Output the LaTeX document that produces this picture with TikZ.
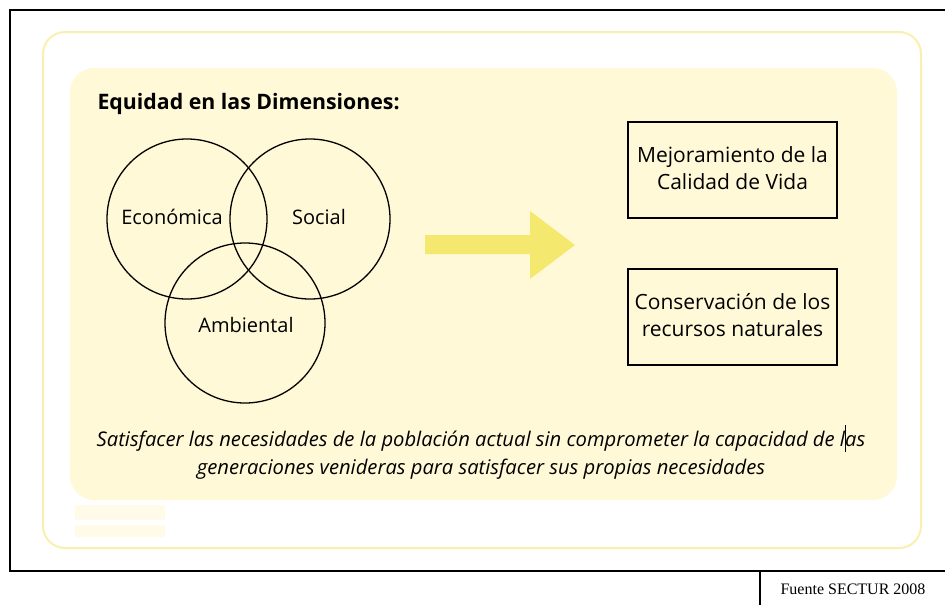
\documentclass[tikz,border=0pt]{standalone}
\usepackage{fontspec}
\setmainfont{Open Sans}
\newfontfamily\fuentefont{Liberation Serif}
\definecolor{fondo}{RGB}{255,249,216}
\definecolor{borde}{RGB}{249,239,175}
\definecolor{flecha}{RGB}{245,232,110}
\definecolor{mancha}{RGB}{255,251,232}
\newcommand{\cursor}{\smash{\makebox[0pt]{\rule[-6pt]{0.8pt}{27pt}}}}

\begin{document}
\begin{tikzpicture}[x=1pt,y=-1pt,
   circulo/.style={draw,line width=1.3pt},
   caja/.style={draw,line width=2pt,minimum width=209pt,minimum height=96pt,
      align=center,font=\fontsize{21}{27}\selectfont},
   etiqueta/.style={font=\fontsize{20}{24}\selectfont}]
\useasboundingbox (0,0) rectangle (945,605);
% marco exterior y fuente
\draw [line width=2pt] (945,10) -- (10,10) -- (10,571) -- (945,571);
\draw [line width=1.5pt] (760,571) -- (760,605);
\node (fuente) at (853,589) {\fuentefont\fontsize{16}{18}\selectfont Fuente SECTUR 2008};
% fondos amarillos
\draw [borde,line width=2pt,rounded corners=22pt] (43,32) rectangle (921,548);
\fill [fondo,rounded corners=24pt] (70,68) rectangle (897,500);
\fill [mancha] (75,505) rectangle (165,520);
\fill [mancha] (75,525) rectangle (165,537);
% titulo
\node [anchor=west,font=\bfseries\fontsize{21.3}{24}\selectfont] (titulo) at (94,104)
   {Equidad en las Dimensiones:};
% dimensiones
\draw [circulo] (187,219) circle (80);
\draw [circulo] (310,219) circle (80);
\draw [circulo] (245,323) circle (80);
\node [etiqueta] (economica) at (172,217) {Económica};
\node [etiqueta] (social) at (319,217) {Social};
\node [etiqueta] (ambiental) at (246,325) {Ambiental};
% flecha
\fill [flecha] (425,235) -- (530,235) -- (530,211) -- (575,245) -- (530,279)
   -- (530,254) -- (425,254) -- cycle;
% resultados
\node [caja] (calidad) at (732.5,170) {\raisebox{3pt}{Mejoramiento de la}\\\raisebox{3pt}{Calidad de Vida}};
\node [caja] (recursos) at (732.5,316.5) {\raisebox{3pt}{Conservación de los}\\\raisebox{3pt}{recursos naturales}};
% definicion
\node [align=center,font=\itshape\fontsize{20.2}{28}\selectfont] (definicion) at (481,455)
   {Satisfacer las necesidades de la población actual sin comprometer la capacidad de l\cursor as\\
    generaciones venideras para satisfacer sus propias necesidades};
\end{tikzpicture}
\end{document}
